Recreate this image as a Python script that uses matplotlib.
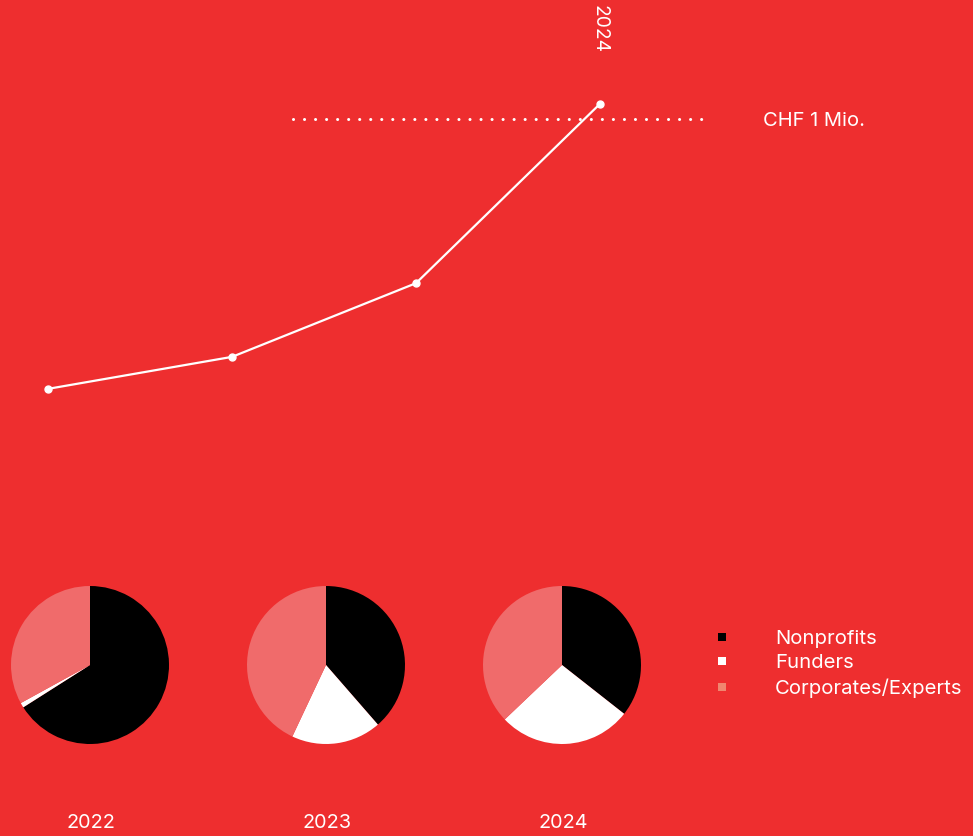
import matplotlib
matplotlib.use('Agg')
import matplotlib.pyplot as plt
from matplotlib.lines import Line2D

plt.rcParams['font.family'] = ['Inter', 'DejaVu Sans']

# community growth (CHF thousand), one point per year
years = [2021, 2022, 2023, 2024]
volume = [359, 435, 610, 1036]
target = 1000  # CHF 1 Mio. reference line

# share of members per year (percent)
pie_years = ['2022', '2023', '2024']
nonprofits = [66, 38.6, 35.6]
funders = [1, 18.4, 27.3]
corporates = [33, 43, 37.1]

groups = ['Nonprofits', 'Funders', 'Corporates/Experts']

bg = '#EE2E2F'
pie_colors = ['#000000', '#FFFFFF', '#F06B6B']
legend_colors = ['#000000', '#FFFFFF', '#F0866F']

W, H = 973, 836
fig = plt.figure(figsize=(W / 100, H / 100), dpi=100, facecolor=bg)

# line chart spanning the top part of the canvas
ax = fig.add_axes([0, 296 / H, 1, 540 / H])
ax.set_facecolor('none')
ax.plot(years, volume, color='white', lw=1.6, marker='o', ms=5,
        markerfacecolor='white', markeredgecolor='white', zorder=3)
ax.plot([2022.33, 2024.58], [target, target], color='white', lw=2.2,
        dashes=[0.01, 3.6], dash_capstyle='round', zorder=2)
ax.set_xlim(2021 - 48 / 184, 2021 + (W - 48) / 184)
ax.set_ylim(0, 1000 * 540 / 421)
ax.axis('off')
ax.text(763 / W, target - 4, 'CHF 1 Mio.', color='white', fontsize=14.5,
        va='center', ha='left', transform=ax.get_yaxis_transform())
ax.text(years[-1], 1.0 - 5 / 540, str(years[-1]), color='white', fontsize=13.8,
        rotation=-90, ha='center', va='top',
        transform=ax.get_xaxis_transform())

# pies
centers = [90, 326, 562]
r = 79
for i, cx in enumerate(centers):
    pax = fig.add_axes([(cx - r) / W, (H - 665 - r) / H, 2 * r / W, 2 * r / H])
    pax.pie([nonprofits[i], funders[i], corporates[i]], colors=pie_colors,
            startangle=90, counterclock=False,
            wedgeprops=dict(linewidth=0))
    pax.set_xlim(-1, 1)
    pax.set_ylim(-1, 1)
    pax.set_aspect('equal')
    fig.text((cx + 1) / W, 1 - 823 / H, pie_years[i], color='white',
             fontsize=14.3, ha='center', va='center')

handles = [Line2D([], [], ls='none', marker='s', ms=5.5, color=c,
                  markeredgewidth=0) for c in legend_colors]
leg = fig.legend(handles, groups, loc='upper left',
                 bbox_to_anchor=(712 / W, 1 - 630 / H), frameon=False,
                 fontsize=14.6, handlelength=1, handletextpad=2.1,
                 labelspacing=0.3, borderpad=0, borderaxespad=0)
for t in leg.get_texts():
    t.set_color('white')

fig.savefig('out.png', dpi=100, facecolor=bg)
